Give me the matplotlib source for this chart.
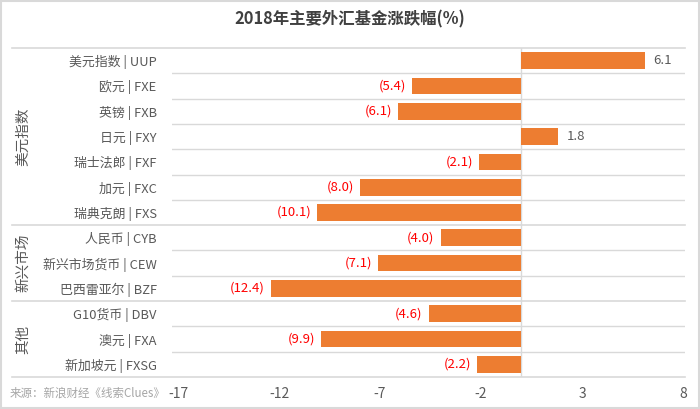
import matplotlib.pyplot as plt

plt.rcParams['font.family'] = ['Noto Sans CJK SC', 'DejaVu Sans']

labels = ["美元指数 | UUP", "欧元 | FXE", "英镑 | FXB", "日元 | FXY", "瑞士法郎 | FXF",
          "加元 | FXC", "瑞典克朗 | FXS", "人民币 | CYB", "新兴市场货币 | CEW",
          "巴西雷亚尔 | BZF", "G10货币 | DBV", "澳元 | FXA", "新加坡元 | FXSG"]
values = [6.1, -5.4, -6.1, 1.8, -2.1, -8.0, -10.1, -4.0, -7.1, -12.4, -4.6, -9.9, -2.2]
groups = [("美元指数", 0, 7), ("新兴市场", 7, 10), ("其他", 10, 13)]
xticks = [-17, -12, -7, -2, 3, 8]

BAR = "#ED7D31"
GRID = "#D9D9D9"
TXT = "#595959"

fig = plt.figure(figsize=(7, 4.09), dpi=100)
ax = fig.add_axes([172 / 700, 32 / 409, 513 / 700, 329 / 409])

n = len(labels)
ypos = list(range(n))
ax.barh(ypos, values, height=0.66, color=BAR, zorder=3)
ax.set_ylim(n - 0.5, -0.5)
ax.set_xlim(-17.3, 8.1)

for y, v in zip(ypos, values):
    if v < 0:
        ax.text(v - 0.3, y, "(%.1f)" % abs(v), ha="right", va="center",
                color="#FF0000", fontsize=9.5)
    else:
        ax.text(v + 0.45, y, "%.1f" % v, ha="left", va="center", color=TXT, fontsize=9.5)

ax.axvline(0, color=GRID, lw=1, zorder=2)

# row separators, full width at group edges
group_edges = {g[1] for g in groups} | {n}
for k in range(n + 1):
    yb = k - 0.5
    if k in group_edges:
        ax.plot([-17.3 - 160 / 20.2, 8.1], [yb, yb], color=GRID, lw=1.2,
                clip_on=False, zorder=1)
    else:
        ax.axhline(yb, color=GRID, lw=1, zorder=1)

for name, a, b in groups:
    ax.text(-17.3 - 149 / 20.2, (a + b - 1) / 2, name, rotation=90, ha="center",
            va="center", color=TXT, fontsize=10.5)

ax.set_yticks(ypos)
ax.set_yticklabels(labels, fontsize=9.3, color=TXT)
ax.set_xticks(xticks)
ax.set_xticklabels([str(t) for t in xticks], fontsize=10, color=TXT)
ax.tick_params(axis="y", length=0, pad=11)
ax.tick_params(axis="x", length=0, pad=7)
for s in ax.spines.values():
    s.set_visible(False)

fig.text(0.5, 0.953, "2018年主要外汇基金涨跌幅(%)", ha="center", va="center",
         fontsize=11.8, fontweight="bold", color="#404040")
fig.text(10 / 700, 1 - 393 / 409, "来源：新浪财经《线索Clues》", ha="left", va="center",
         fontsize=8.3, style="italic", color="#A6A6A6")

fig.patches.append(plt.Rectangle((0.001, 0.002), 0.997, 0.995, transform=fig.transFigure,
                                 fill=False, edgecolor=GRID, lw=1.5))

fig.savefig("out.png", dpi=100)
